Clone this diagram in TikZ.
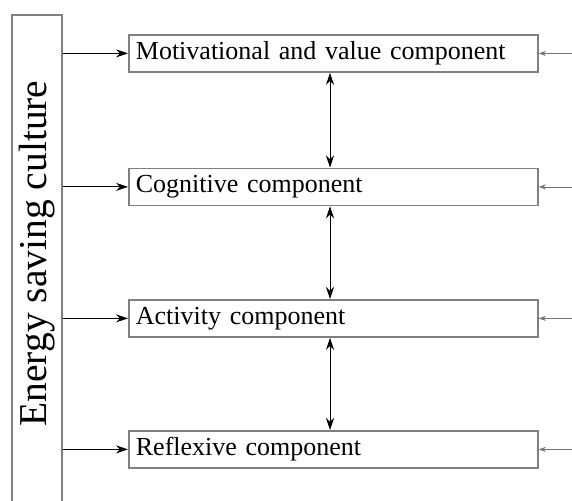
\documentclass[tikz,border=0pt]{standalone}
\usepackage{fontspec}
\setmainfont{Liberation Serif}
\usetikzlibrary{arrows.meta,calc}
\tikzset{
  compbox/.style={draw=black!50, line width=1.8pt, fill=white, minimum width=409pt, minimum height=37pt,
    text width=395pt, align=left, inner xsep=7pt, inner ysep=0pt, anchor=north west,
    font=\fontsize{26}{29}\selectfont},
  bigbox/.style={draw=black!50, line width=1.8pt, minimum width=50pt, minimum height=520pt, anchor=north west, inner sep=0pt},
  larrow/.style={-{Stealth[length=12pt,width=8pt]}, line width=0.9pt, black},
  rarrow/.style={-{Stealth[length=7pt,width=5pt]}, line width=0.6pt, black!55},
  darrow/.style={{Stealth[length=12pt,width=8pt]}-{Stealth[length=12pt,width=8pt]}, line width=0.9pt, black}
}
\begin{document}
\begin{tikzpicture}[x=1pt,y=-1pt]
\clip (0,0) rectangle (572,500);
\fill[white] (0,0) rectangle (572,500);
\node[bigbox] (culture) at (11,14) {};
\node[rotate=90, anchor=center, font=\fontsize{39.5}{42}\selectfont, inner sep=0pt] (ctext) at (37.5,253.5) {Energy saving culture};
\node[compbox] (m1) at (128,34) {Motivational and value component};
\node[compbox] (m2) at (128,167.5) {Cognitive component};
\node[compbox] (m3) at (128,299) {Activity component};
\node[compbox] (m4) at (128,430) {Reflexive component};
\foreach \i in {1,2,3,4}{
  \draw[larrow] (culture.east |- m\i.west) -- (m\i.west);
  \coordinate (r\i) at ($(m\i.east)+(40,0)$);
  \draw[rarrow] (r\i) -- (m\i.east);
}
\draw[darrow] ($(m1.south west)+(202,0)$) coordinate (d1) -- (d1 |- m2.north);
\draw[darrow] ($(m2.south west)+(202,0)$) coordinate (d2) -- (d2 |- m3.north);
\draw[darrow] ($(m3.south west)+(202,0)$) coordinate (d3) -- (d3 |- m4.north);
\end{tikzpicture}
\end{document}
